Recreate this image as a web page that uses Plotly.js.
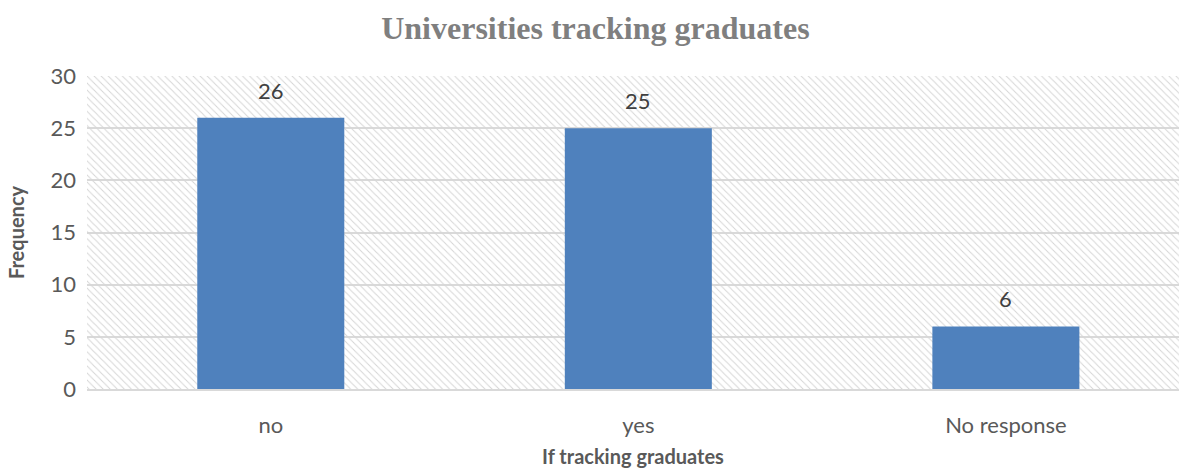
<!DOCTYPE html>
<html>
<head>
<meta charset="utf-8">
<script src="https://cdn.plot.ly/plotly-3.0.1.min.js"></script>
<style>html,body{margin:0;padding:0;background:#fff;}#chart{width:1179px;height:468px;}</style>
</head>
<body>
<div id="chart"></div>
<script>
const categories = ["no", "yes", "No response"];
const frequency = [26, 25, 6];
const yTicks = [0, 5, 10, 15, 20, 25, 30];
const yMax = 30;
const chartTitle = "Universities tracking graduates";
const xTitle = "If tracking graduates";
const yTitle = "Frequency";

const sansFont = "Lato, 'Open Sans', sans-serif";

const background = {
  type: "bar",
  x: categories,
  y: categories.map(() => yMax),
  width: categories.map(() => 1),
  marker: {
    color: "rgba(0,0,0,0)",
    line: {width: 0},
    pattern: {shape: "\\", size: 5, solidity: 0.2, fgcolor: "#d6d6d6", bgcolor: "rgba(0,0,0,0)", fillmode: "replace"}
  },
  hoverinfo: "skip",
  showlegend: false
};

const bars = {
  type: "bar",
  x: categories,
  y: frequency,
  width: categories.map(() => 0.4),
  marker: {color: "#4F81BD", line: {width: 0}},
  showlegend: false,
  hoverinfo: "x+y"
};

const labels = categories.map((c, i) => ({
  x: c, y: frequency[i], xref: "x", yref: "y",
  text: String(frequency[i]), showarrow: false,
  yanchor: "bottom", yshift: 12,
  font: {family: sansFont, size: 22, color: "#404040"}
}));

const layout = {
  width: 1179, height: 468,
  margin: {l: 87, r: 0, t: 76, b: 79, pad: 0},
  paper_bgcolor: "#ffffff",
  plot_bgcolor: "#ffffff",
  barmode: "overlay",
  title: {
    text: "<b>" + chartTitle + "</b>",
    font: {family: "'Liberation Serif', 'Times New Roman', serif", size: 32, color: "#7f7f7f"},
    x: 0.505, xanchor: "center", y: 0.94, yanchor: "middle", yref: "container"
  },
  xaxis: {
    type: "category",
    range: [-0.5, 2.471],
    showgrid: false,
    showline: true, linecolor: "#d9d9d9", linewidth: 2,
    ticks: "",
    ticklabelstandoff: 16,
    tickfont: {family: sansFont, size: 22, color: "#595959"},
    title: {text: "<b>" + xTitle + "</b>", standoff: 14, font: {family: sansFont, size: 20, color: "#595959"}},
    fixedrange: true
  },
  yaxis: {
    range: [0, yMax],
    tickvals: yTicks,
    ticktext: yTicks.map(String),
    showgrid: true, gridcolor: "#d9d9d9", gridwidth: 2,
    zeroline: false,
    showline: false,
    ticks: "",
    ticklabelstandoff: 10,
    tickfont: {family: sansFont, size: 22, color: "#595959"},
    title: {text: "<b>" + yTitle + "</b>", standoff: 20, font: {family: sansFont, size: 20, color: "#595959"}},
    fixedrange: true
  },
  annotations: labels
};

Plotly.newPlot("chart", [background, bars], layout, {displayModeBar: false, staticPlot: false});
</script>
</body>
</html>
